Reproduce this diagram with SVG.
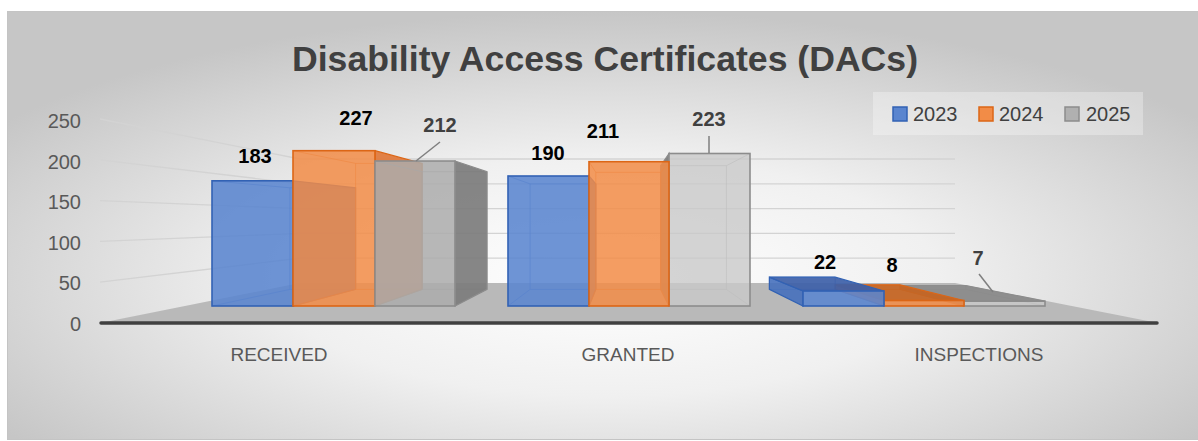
<svg xmlns="http://www.w3.org/2000/svg" width="1198" height="441" viewBox="0 0 1198 441">
<defs>
<radialGradient id="bg" cx="50%" cy="62%" r="62%">
<stop offset="0" stop-color="#ffffff"/>
<stop offset="0.45" stop-color="#f0f0f0"/>
<stop offset="1" stop-color="#c6c6c6"/>
</radialGradient>
<style>
.ax{font-family:"Liberation Sans",Arial,sans-serif;font-size:20px;fill:#595959}
.cat{font-family:"Liberation Sans",Arial,sans-serif;font-size:19px;fill:#595959;text-anchor:middle}
.lbl{font-family:"Liberation Sans",Arial,sans-serif;font-size:20px;font-weight:bold;text-anchor:middle}
.dk{fill:#000000}
.gy{fill:#404040}
.leg{font-family:"Liberation Sans",Arial,sans-serif;font-size:20px;fill:#404040}
.grid{stroke:#d3d3d3;stroke-width:1.3;fill:none}
.lead{stroke:#7f7f7f;stroke-width:1.5;fill:none}
.hb{fill:none;stroke:#3d68b8;stroke-width:1;stroke-opacity:0.6}
.ho{fill:none;stroke:#d9691f;stroke-width:1;stroke-opacity:0.6}
.hg{fill:none;stroke:#8c8c8c;stroke-width:1;stroke-opacity:0.6}
.fb{fill:#5a85cf;fill-opacity:0.88;stroke:#3262b4;stroke-width:1.6}
.fo{fill:#f28c47;fill-opacity:0.85;stroke:#dc6616;stroke-width:1.6}
.fg{fill:#c9c9c9;fill-opacity:0.8;stroke:#8c8c8c;stroke-width:1.6}
.fg2{fill:#acacac;fill-opacity:0.85;stroke:#8c8c8c;stroke-width:1.6}
.sb{fill:#4670bd;fill-opacity:0.9;stroke:#3262b4;stroke-width:1.2}
.so{fill:#e07535;fill-opacity:0.9;stroke:#dc6616;stroke-width:1.2}
.sg{fill:#7c7c7c;fill-opacity:0.92;stroke:#8c8c8c;stroke-width:1.2}
.tb{fill:#3d60a8;fill-opacity:0.92;stroke:#3262b4;stroke-width:1.2}
.to{fill:#c8641f;fill-opacity:0.9;stroke:#dc6616;stroke-width:1.2}
.tg{fill:#8a8a8a;fill-opacity:0.9;stroke:#8c8c8c;stroke-width:1.2}
</style>
</defs>
<rect x="0" y="0" width="1198" height="441" fill="#ffffff"/>
<rect x="7.5" y="11.5" width="1195" height="428" fill="url(#bg)" stroke="#c4c4c4" stroke-width="1"/>
<text x="605" y="71" font-family="'Liberation Sans',Arial,sans-serif" font-size="35" font-weight="bold" fill="#404040" text-anchor="middle" textLength="626" lengthAdjust="spacingAndGlyphs">Disability Access Certificates (DACs)</text>

<g id="gridlines">
<path class="grid" d="M100,282.2 L300,258.2 L955,258.2 M100,241.4 L300,233.4 L955,233.4 M100,200.6 L300,208.6 L955,208.6 M100,159.8 L300,183.8 L955,183.8 M100,119 L300,159 L955,159"/>
</g>
<g id="floor">
<polygon points="100,323 300,283 955,283 1158,323" fill="#b9b9b9"/>
<line x1="101" y1="323" x2="1157" y2="323" stroke="#404040" stroke-width="3.5" stroke-linecap="round"/>
</g>

<g id="y-axis">
<text class="ax" x="81" y="128" text-anchor="end">250</text>
<text class="ax" x="81" y="168.6" text-anchor="end">200</text>
<text class="ax" x="81" y="209.2" text-anchor="end">150</text>
<text class="ax" x="81" y="249.8" text-anchor="end">100</text>
<text class="ax" x="81" y="290.4" text-anchor="end">50</text>
<text class="ax" x="81" y="331" text-anchor="end">0</text>
</g>

<g id="received-2023">
<path class="hb" d="M289.9,187.8 H355.6 V289.4 H289.9 Z M212,180.8 L289.9,187.8 M212,306 L289.9,289.4"/>
<polygon class="sb" points="293,180.8 355.6,187.8 355.6,289.4 293,306"/>
<rect class="fb" x="212" y="180.8" width="81" height="125.2"/>
</g>
<g id="received-2024">
<path class="ho" d="M355.6,163.4 H422.1 V289.4 H355.6 Z M293,150.7 L355.6,163.4 M293,306 L355.6,289.4"/>
<polygon class="so" points="375,150.7 422.1,163.4 422.1,289.4 375,306"/>
<rect class="fo" x="293" y="150.7" width="82" height="155.3"/>
</g>
<g id="received-2025">
<path class="hg" d="M422.1,171.7 H487 V289.4 H422.1 Z M375,161 L422.1,171.7 M375,306 L422.1,289.4"/>
<polygon class="sg" points="455,161 487,171.7 487,289.4 455,306"/>
<rect class="fg2" x="375" y="161" width="80" height="145"/>
</g>

<g id="granted-2023">
<path class="hb" d="M530.1,183.9 H595.8 V289.4 H530.1 Z M508,176 L530.1,183.9 M508,306 L530.1,289.4"/>
<polygon class="sb" points="589,176 595.8,183.9 595.8,289.4 589,306"/>
<rect class="fb" x="508" y="176" width="81" height="130"/>
</g>
<g id="granted-2025">
<path class="hg" d="M660.7,165.7 H726.4 V289.4 H660.7 Z M750,153.5 L726.4,165.7 M750,306 L726.4,289.4"/>
<polygon class="sg" points="669,153.5 660.7,165.7 660.7,289.4 669,306"/>
<rect class="fg" x="669" y="153.5" width="81" height="152.5"/>
</g>
<g id="granted-2024">
<path class="ho" d="M595.8,172.3 H660.7 V289.4 H595.8 Z M589,161.7 L595.8,172.3 M669,161.7 L660.7,172.3 M589,306 L595.8,289.4 M669,306 L660.7,289.4"/>
<rect class="fo" x="589" y="161.7" width="80" height="144.3"/>
</g>

<g id="inspections-2025">
<path class="hg" d="M900.1,285.5 H965.8 V289.4 H900.1 Z M1045,306 L965.8,289.4"/>
<polygon class="sg" points="964,301.2 900.1,285.5 900.1,289.4 964,306"/>
<polygon class="tg" points="964,301.2 1045,301.2 965.8,285.5 900.1,285.5"/>
<rect class="fg" x="964" y="301.2" width="81" height="4.8"/>
</g>
<g id="inspections-2024">
<path class="ho" d="M835.2,284.9 H900.1 V289.4 H835.2 Z M964,306 L900.1,289.4"/>
<polygon class="so" points="884,300.5 835.2,284.9 835.2,289.4 884,306"/>
<polygon class="to" points="884,300.5 964,300.5 900.1,284.9 835.2,284.9"/>
<rect class="fo" x="884" y="300.5" width="80" height="5.5"/>
</g>
<g id="inspections-2023">
<path class="hb" d="M769.4,277.2 H835.2 V289.4 H769.4 Z M884,306 L835.2,289.4"/>
<polygon class="sb" points="803,291 769.4,277.2 769.4,289.4 803,306"/>
<polygon class="tb" points="803,291 884,291 835.2,277.2 769.4,277.2"/>
<rect class="fb" x="803" y="291" width="81" height="15"/>
</g>

<g id="connectors">
<line class="lead" x1="440" y1="142" x2="416" y2="161"/>
<line class="lead" x1="709" y1="136" x2="709" y2="153"/>
<line class="lead" x1="979" y1="274" x2="993" y2="292"/>
</g>

<g id="data-labels">
<text class="lbl dk" x="255" y="163">183</text>
<text class="lbl dk" x="356" y="125">227</text>
<text class="lbl gy" x="440" y="132">212</text>
<text class="lbl dk" x="548" y="160">190</text>
<text class="lbl dk" x="603" y="138">211</text>
<text class="lbl gy" x="709" y="126">223</text>
<text class="lbl dk" x="825" y="269">22</text>
<text class="lbl dk" x="892" y="272">8</text>
<text class="lbl gy" x="978" y="265">7</text>
</g>

<g id="categories">
<text class="cat" x="279" y="361">RECEIVED</text>
<text class="cat" x="628" y="361">GRANTED</text>
<text class="cat" x="979" y="361">INSPECTIONS</text>
</g>

<g id="legend">
<rect x="873" y="92" width="270" height="43" fill="#ffffff" fill-opacity="0.3"/>
<rect x="893" y="107" width="14" height="14" fill="#5a85cf" stroke="#3262b4" stroke-width="1.5"/>
<text class="leg" x="913" y="121">2023</text>
<rect x="979" y="107" width="14" height="14" fill="#f28c47" stroke="#dc6616" stroke-width="1.5"/>
<text class="leg" x="999" y="121">2024</text>
<rect x="1065" y="107" width="14" height="14" fill="#b0b0b0" stroke="#8c8c8c" stroke-width="1.5"/>
<text class="leg" x="1086" y="121">2025</text>
</g>
</svg>
